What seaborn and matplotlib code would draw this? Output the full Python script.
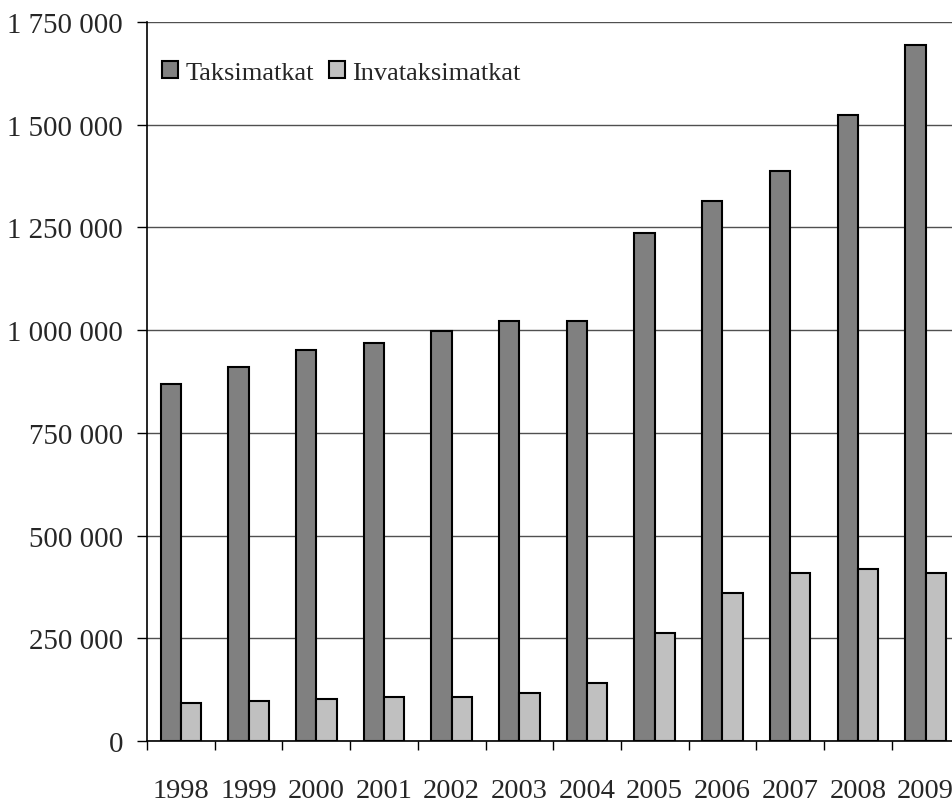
import pandas as pd
import seaborn as sns
import matplotlib.pyplot as plt
from matplotlib.ticker import FuncFormatter, FixedLocator

years = ['1998', '1999', '2000', '2001', '2002', '2003', '2004', '2005', '2006', '2007', '2008', '2009']
taksimatkat = [869000, 910000, 952000, 969000, 998000, 1022000, 1022000, 1237000, 1315000, 1388000, 1524000, 1694000]
invataksimatkat = [92000, 97000, 102000, 107000, 107000, 117000, 141000, 263000, 360000, 409000, 419000, 409000]
series_names = ['Taksimatkat', 'Invataksimatkat']

df = pd.DataFrame({'Vuosi': years * 2,
                   'Matkat': taksimatkat + invataksimatkat,
                   'Sarja': [series_names[0]] * len(years) + [series_names[1]] * len(years)})

sns.set_style('white')
plt.rcParams['font.family'] = ['Liberation Serif', 'DejaVu Serif']

fig = plt.figure(figsize=(9.52, 8.03), dpi=100)
ax = fig.add_axes([147 / 952, 61 / 803, 812.4 / 952, 719 / 803])

sns.barplot(data=df, x='Vuosi', y='Matkat', hue='Sarja', palette=['#808080', '#C0C0C0'],
            width=0.6, gap=0, edgecolor='black', linewidth=1.5, ax=ax, zorder=3)

ax.set_ylim(0, 1750000)
ax.set_xlim(-0.5, 11.5)
ax.set_yticks(range(0, 1750001, 250000))
ax.yaxis.set_major_formatter(FuncFormatter(lambda v, p: f'{v:,.0f}'.replace(',', ' ')))
ax.yaxis.grid(True, color='#505050', linewidth=1.0, zorder=0)
ax.set_axisbelow(True)
ax.set_xlabel('')
ax.set_ylabel('')

for s in ['top', 'right']:
    ax.spines[s].set_visible(False)
for s in ['left', 'bottom']:
    ax.spines[s].set_color('black')
    ax.spines[s].set_linewidth(1.2)

ax.tick_params(axis='y', which='major', left=True, length=7.2, width=1, color='black', labelsize=20.8, pad=10)
ax.tick_params(axis='x', which='major', length=0, labelsize=20.5, pad=27)
ax.xaxis.set_minor_locator(FixedLocator([i - 0.5 for i in range(len(years))]))
ax.tick_params(axis='x', which='minor', bottom=True, length=6.5, width=1, color='black')

ax.legend(loc='center left', bbox_to_anchor=(0.019, 0.93), frameon=False, ncol=2,
          fontsize=19, handlelength=0.6, handleheight=0.6, handletextpad=0.28,
          columnspacing=0.55, borderaxespad=0, borderpad=0)

fig.savefig('out.png', dpi=100)
